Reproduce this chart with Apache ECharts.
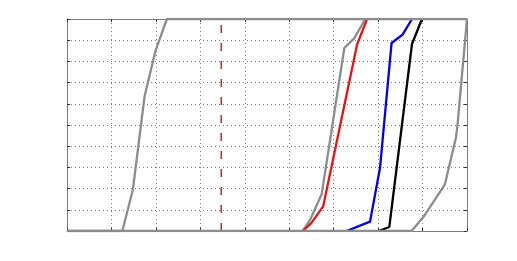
<!DOCTYPE html>
<html><head><meta charset="utf-8">
<script src="https://cdn.jsdelivr.net/npm/echarts@6/dist/echarts.min.js"></script>
<style>html,body{margin:0;padding:0;background:#fff}#c{width:517px;height:261px}</style>
</head><body><div id="c"></div>
<script>
// x/y ranges and tick spacing
const xRange = [0, 9];
const yRange = [0, 10];
// series data as [x, y]
const grayLow = [[0,0],[1.245,0],[1.483,1.96],[1.746,6.36],[1.987,8.47],[2.247,10],[9,10]];
const grayMid = [[5.303,0],[5.476,0.55],[5.730,1.73],[6.240,8.63],[6.465,9.1],[6.712,10]];
const redLine = [[5.303,0],[5.492,0.36],[5.764,1.16],[6.526,8.79],[6.751,10]];
const blueLine = [[6.292,0],[6.818,0.44],[7.043,2.98],[7.303,8.87],[7.551,9.26],[7.762,10]];
const blackLine = [[7.011,0],[7.252,0.19],[7.762,8.82],[7.987,10]];
const grayHigh = [[0,0],[7.753,0],[8.038,0.71],[8.503,2.2],[8.751,4.4],[8.787,5.02],[9,10]];
const refX = [[3.47,0],[3.47,10]];

const chart = echarts.init(document.getElementById('c'), null, {renderer:'canvas'});
const frame = {show:true, lineStyle:{color:'#7f7f7f', width:1}};
const split = {show:true, lineStyle:{color:'#7a7a7a', type:[1,3], width:1}};
const tick = {show:true, inside:true, length:3, lineStyle:{color:'#333'}};
function ax(pos, isX, withSplit){
  return {type:'value', position:pos, min:(isX?xRange:yRange)[0], max:(isX?xRange:yRange)[1], interval:1,
    axisLine:Object.assign({onZero:false}, frame), axisTick:tick, axisLabel:{show:false},
    splitLine: withSplit ? split : {show:false}};
}
function ln(data, color, extra){
  return Object.assign({type:'line', data:data, symbol:'none', clip:true, animation:false,
    lineStyle:{color:color, width:2.3}}, extra||{});
}
chart.setOption({
  animation:false,
  grid:{left:67, top:19, right:50, bottom:30, containLabel:false},
  xAxis:[ax('bottom', true, true), ax('top', true, false)],
  yAxis:[ax('left', false, true), ax('right', false, false)],
  series:[
    ln(refX, '#a81010', {lineStyle:{color:'#a81010', width:1.3, type:[8,10]}}),
    ln(grayMid, '#8c8c8c'),
    ln(redLine, '#ee1111'),
    ln(blueLine, '#0000ee'),
    ln(blackLine, '#000000'),
    ln(grayLow, '#8c8c8c'),
    ln(grayHigh, '#8c8c8c')
  ]
});
</script></body></html>
